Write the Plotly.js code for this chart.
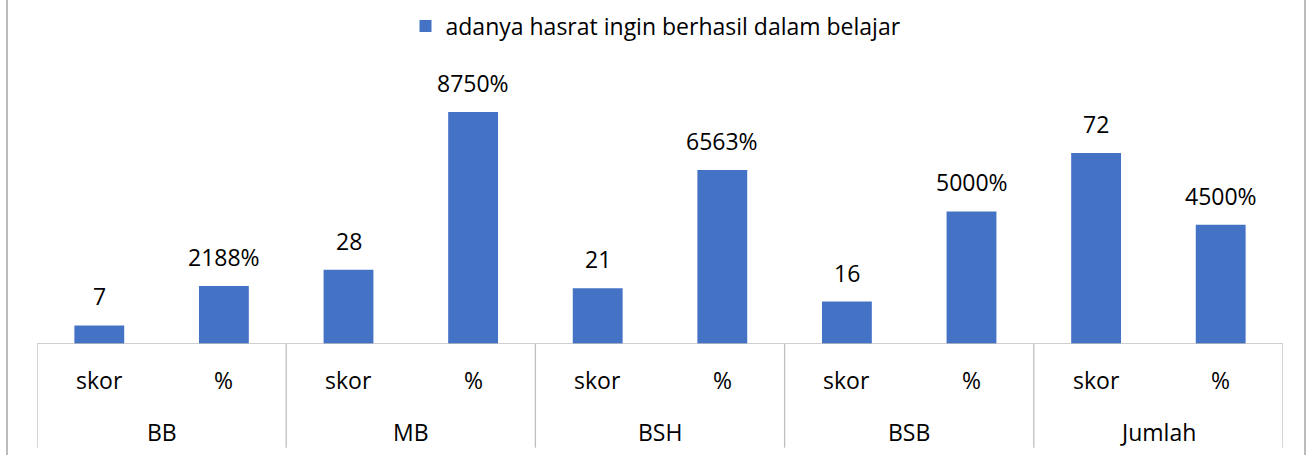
<!DOCTYPE html>
<html>
<head>
<meta charset="utf-8">
<script src="https://cdn.plot.ly/plotly-3.0.1.min.js"></script>
<style>html,body{margin:0;padding:0;background:#fff;}#chart{width:1313px;height:455px;}</style>
</head>
<body>
<div id="chart"></div>
<script>
// ---- data ----
const groups = ["BB", "MB", "BSH", "BSB", "Jumlah"];
const subCategories = ["skor", "%"];
const seriesName = "adanya hasrat ingin berhasil dalam belajar";
const skorValues = [7, 28, 21, 16, 72];
const percentValues = [21.88, 87.50, 65.63, 50.00, 45.00];

// ---- build flat series ----
const xs = [], ys = [], labels = [], subLabels = [];
groups.forEach((g, gi) => {
  xs.push(gi * 2); ys.push(skorValues[gi]); labels.push(String(skorValues[gi])); subLabels.push(subCategories[0]);
  xs.push(gi * 2 + 1); ys.push(percentValues[gi]); labels.push(Math.round(percentValues[gi] * 100) + "%"); subLabels.push(subCategories[1]);
});

// ---- layout geometry (pixels) ----
const W = 1313, H = 455;
const L = 37, R = 1283, T = 5, B = 344;
const pw = R - L, ph = B - T;
const py = p => (B - p) / ph;   // pixel y -> paper y
const px = p => (p - L) / pw;   // pixel x -> paper x

const font = "Open Sans, Noto Sans, sans-serif";
const fs = 23;
const txt = "#000000";
const gridGray = "#bfbfbf";

const annotations = [];
// data labels
xs.forEach((x, i) => annotations.push({
  x: x, y: ys[i], xref: "x", yref: "y", text: labels[i], showarrow: false,
  yanchor: "bottom", yshift: 11, font: {family: font, size: fs, color: txt}
}));
// sub-category labels
xs.forEach((x, i) => annotations.push({
  x: x, y: py(380), xref: "x", yref: "paper", text: subLabels[i], showarrow: false,
  yanchor: "middle", font: {family: font, size: fs, color: txt}
}));
// group labels
groups.forEach((g, gi) => annotations.push({
  x: gi * 2 + 0.5, y: py(432), xref: "x", yref: "paper", text: g, showarrow: false,
  yanchor: "middle", font: {family: font, size: fs, color: txt}
}));

const shapes = [];
// axis line
shapes.push({type: "line", xref: "x", yref: "y", x0: -0.5, x1: 2 * groups.length - 0.5, y0: 0, y1: 0,
  line: {color: gridGray, width: 1.3}});
// group dividers
for (let k = 0; k <= groups.length; k++) {
  shapes.push({type: "line", xref: "x", yref: "paper", x0: 2 * k - 0.5, x1: 2 * k - 0.5, y0: 0, y1: py(448),
    line: {color: gridGray, width: 1.3}});
}
// chart frame (left/right)
[7, 1305].forEach(p => shapes.push({type: "line", xref: "paper", yref: "paper", x0: px(p), x1: px(p),
  y0: py(-5), y1: py(460), line: {color: "#a6a6a6", width: 1.5}}));

const trace = {
  type: "bar", x: xs, y: ys, name: seriesName, width: 0.4,
  marker: {color: "#4472c4"}, hoverinfo: "skip"
};

const layout = {
  width: W, height: H,
  margin: {l: L, r: W - R, t: T, b: H - B},
  paper_bgcolor: "#ffffff", plot_bgcolor: "#ffffff",
  showlegend: true,
  legend: {orientation: "h", x: px(656), xanchor: "center", y: py(26), yanchor: "middle",
    font: {family: font, size: fs, color: txt}, itemwidth: 30, bgcolor: "rgba(0,0,0,0)"},
  xaxis: {range: [-0.5, 2 * groups.length - 0.5], showticklabels: false, showgrid: false,
    zeroline: false, showline: false, ticks: "", fixedrange: true},
  yaxis: {range: [0, ph / 2.66], visible: false, showgrid: false, zeroline: false, fixedrange: true},
  annotations: annotations, shapes: shapes
};

Plotly.newPlot("chart", [trace], layout, {displayModeBar: false, staticPlot: true});
</script>
</body>
</html>
